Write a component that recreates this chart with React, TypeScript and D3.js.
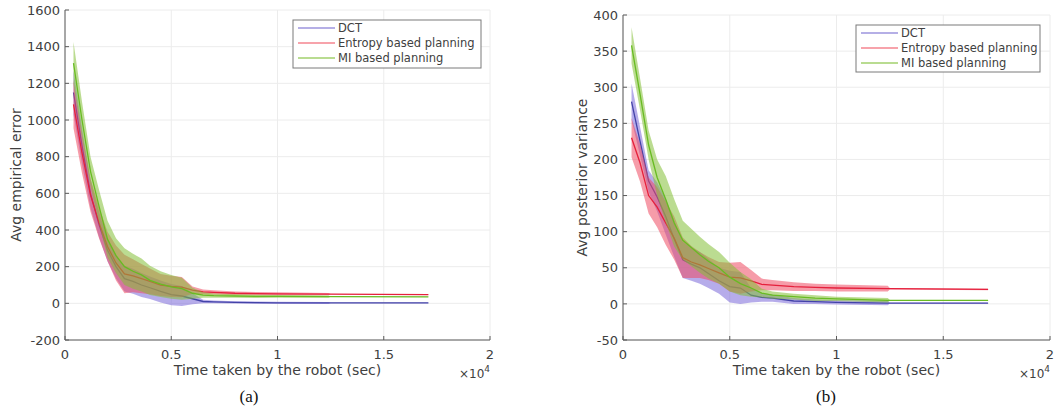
import React from "react";
import * as d3 from "d3";

// time in units of 1e4 s
const TIME = [0.04, 0.08, 0.12, 0.16, 0.2, 0.24, 0.28, 0.32, 0.36, 0.4, 0.45, 0.5, 0.55, 0.6, 0.65, 0.7, 0.8, 0.9, 1.0, 1.24, 1.25, 1.71];

// Panel (a): Avg empirical error
const DCT_ERR = [1150, 860, 600, 430, 290, 200, 135, 120, 100, 85, 65, 48, 40, 25, 10, 8, 5, 4, 3, 2, 2, 2];
const DCT_ERR_SD = [120, 100, 80, 70, 60, 65, 70, 68, 65, 62, 60, 58, 55, 30, 10, 8, 6, 6, 5, 5, 1, 1];
const ENT_ERR = [1085, 820, 590, 440, 310, 220, 160, 150, 135, 120, 100, 92, 88, 72, 62, 60, 55, 53, 52, 50, 50, 48];
const ENT_ERR_SD = [130, 110, 90, 85, 80, 95, 105, 90, 80, 70, 60, 58, 55, 20, 14, 12, 10, 9, 8, 6, 1, 1];
const MI_ERR = [1310, 1000, 720, 530, 350, 260, 200, 175, 155, 125, 105, 90, 80, 55, 45, 42, 40, 38, 38, 37, 37, 35];
const MI_ERR_SD = [115, 100, 80, 90, 100, 95, 100, 95, 90, 80, 70, 65, 60, 30, 15, 12, 10, 9, 8, 6, 1, 1];

// Panel (b): Avg posterior variance
const DCT_VAR = [280, 225, 170, 148, 121, 90, 61, 55, 50, 42, 32, 24, 22, 12, 9, 8, 4, 3, 2, 1, 1, 1];
const DCT_VAR_SD = [25, 20, 15, 20, 25, 25, 25, 23, 22, 20, 18, 22, 22, 10, 6, 5, 4, 3, 3, 3, 0.5, 0.5];
const ENT_VAR = [230, 195, 150, 134, 112, 91, 64, 58, 54, 49, 43, 37, 36, 32, 27, 26, 24, 23, 22, 21, 21, 20];
const ENT_VAR_SD = [27, 26, 25, 28, 30, 30, 28, 22, 18, 16, 15, 20, 22, 15, 8, 7, 6, 5, 5, 4, 1, 1];
const MI_VAR = [358, 290, 220, 175, 145, 112, 88, 78, 68, 59, 50, 37, 28, 22, 15, 12, 10, 8, 7, 5, 5, 5];
const MI_VAR_SD = [25, 22, 20, 25, 32, 33, 27, 26, 25, 24, 22, 20, 16, 12, 6, 5, 4, 4, 3, 3, 0.5, 0.5];

const SERIES_NAMES = ["DCT", "Entropy based planning", "MI based planning"];
const X_TICKS = [0, 0.5, 1, 1.5, 2];
const Y_TICKS_A = [-200, 0, 200, 400, 600, 800, 1000, 1200, 1400, 1600];
const Y_TICKS_B = [-50, 0, 50, 100, 150, 200, 250, 300, 350, 400];

const LINE_COLORS = ["#4343a8", "#e5203c", "#68bb22"];
const FILL_COLORS = ["#7a68d8", "#ee4a62", "#84c036"];
const FILL_OPACITY = [0.55, 0.55, 0.55];
const LEGEND_COLORS = ["#9d94de", "#f4848f", "#a2d06c"];

const FONT = "'DejaVu Sans', sans-serif";
const TEXT = "#404040";

type PanelProps = {
  x0: number; x1: number; yTop: number; yBot: number;
  yDomain: [number, number]; yTicks: number[];
  means: number[][]; sds: number[][];
  ylabel: string; ylabelX: number; caption: string; captionX: number;
  legend: { x: number; y: number; w: number; h: number };
};

function Panel(p: PanelProps) {
  const x = d3.scaleLinear().domain([0, 2]).range([p.x0, p.x1]);
  const y = d3.scaleLinear().domain(p.yDomain).range([p.yBot, p.yTop]);
  const line = d3.line<number>().x((_, i) => x(TIME[i])).y((d) => y(d));
  const cx = (p.x0 + p.x1) / 2;
  return (
    <g>
      {X_TICKS.map((t) => (
        <line key={"gx" + t} x1={x(t)} x2={x(t)} y1={p.yTop} y2={p.yBot} stroke="#ececec" strokeWidth={1} />
      ))}
      {p.yTicks.map((t) => (
        <line key={"gy" + t} x1={p.x0} x2={p.x1} y1={y(t)} y2={y(t)} stroke="#ececec" strokeWidth={1} />
      ))}
      {p.means.map((m, si) => {
        const sd = p.sds[si];
        const a = d3.area<number>()
          .x((_, i) => x(TIME[i]))
          .y0((d, i) => y(d - sd[i]))
          .y1((d, i) => y(d + sd[i]));
        return (
          <g key={"s" + si}>
            <path d={a(m) || ""} fill={FILL_COLORS[si]} fillOpacity={FILL_OPACITY[si]} stroke="none" />
            <path d={line(m) || ""} fill="none" stroke={LINE_COLORS[si]} strokeWidth={1.3} />
          </g>
        );
      })}
      <line x1={p.x0} x2={p.x1} y1={p.yBot} y2={p.yBot} stroke="#5a5a5a" strokeWidth={1} />
      <line x1={p.x0} x2={p.x0} y1={p.yTop} y2={p.yBot} stroke="#5a5a5a" strokeWidth={1} />
      {X_TICKS.map((t) => (
        <g key={"xt" + t}>
          <line x1={x(t)} x2={x(t)} y1={p.yBot} y2={p.yBot - 4} stroke="#5a5a5a" />
          <text x={x(t)} y={p.yBot + 19} textAnchor="middle" fontSize={13} fill={TEXT} fontFamily={FONT}>{String(t)}</text>
        </g>
      ))}
      {p.yTicks.map((t) => (
        <g key={"yt" + t}>
          <line x1={p.x0} x2={p.x0 + 4} y1={y(t)} y2={y(t)} stroke="#5a5a5a" />
          <text x={p.x0 - 5} y={y(t)} dy="0.36em" textAnchor="end" fontSize={13} fill={TEXT} fontFamily={FONT}>{String(t)}</text>
        </g>
      ))}
      <text x={cx} y={p.yBot + 35} textAnchor="middle" fontSize={14} fill={TEXT} fontFamily={FONT}>Time taken by the robot (sec)</text>
      <text x={p.x1} y={p.yBot + 38} textAnchor="end" fontSize={12} fill={TEXT} fontFamily={FONT}>
        ×10<tspan dy={-6} fontSize={9}>4</tspan>
      </text>
      <text transform={`translate(${p.ylabelX},${(p.yTop + p.yBot) / 2}) rotate(-90)`} textAnchor="middle" dy="0.36em" fontSize={14} fill={TEXT} fontFamily={FONT}>{p.ylabel}</text>
      <text x={p.captionX} y={p.yBot + 62} textAnchor="middle" fontSize={17} fill="#111" fontFamily="'Liberation Serif', serif">{p.caption}</text>
      <rect x={p.legend.x} y={p.legend.y} width={p.legend.w} height={p.legend.h} fill="#fff" stroke="#7a7a7a" strokeWidth={1} />
      {SERIES_NAMES.map((n, i) => {
        const ly = p.legend.y + 8 + i * 15;
        return (
          <g key={"lg" + i}>
            <line x1={p.legend.x + 5} x2={p.legend.x + 42} y1={ly} y2={ly} stroke={LEGEND_COLORS[i]} strokeWidth={1.3} />
            <text x={p.legend.x + 45} y={ly} dy="0.36em" fontSize={11.5} fill={TEXT} fontFamily={FONT}>{n}</text>
          </g>
        );
      })}
    </g>
  );
}

export default function App() {
  return (
    <svg width={1054} height={413} style={{ position: "absolute", left: 0, top: 0, background: "#fff" }}>
      <rect x={0} y={0} width={1054} height={413} fill="#fff" />
      <Panel x0={65} x1={490} yTop={10} yBot={340} yDomain={[-200, 1600]} yTicks={Y_TICKS_A}
        means={[DCT_ERR, ENT_ERR, MI_ERR]} sds={[DCT_ERR_SD, ENT_ERR_SD, MI_ERR_SD]}
        ylabel="Avg empirical error" ylabelX={16} caption="(a)" captionX={249}
        legend={{ x: 293, y: 20, w: 188, h: 48 }} />
      <Panel x0={623} x1={1050} yTop={15} yBot={340} yDomain={[-50, 400]} yTicks={Y_TICKS_B}
        means={[DCT_VAR, ENT_VAR, MI_VAR]} sds={[DCT_VAR_SD, ENT_VAR_SD, MI_VAR_SD]}
        ylabel="Avg posterior variance" ylabelX={582} caption="(b)" captionX={826}
        legend={{ x: 856, y: 25, w: 184, h: 47 }} />
    </svg>
  );
}
